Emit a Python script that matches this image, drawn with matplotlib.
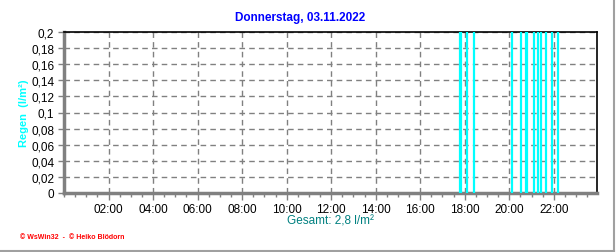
import matplotlib
matplotlib.use("Agg")
import matplotlib.pyplot as plt
from matplotlib.ticker import FixedLocator, MultipleLocator, FuncFormatter
from matplotlib.lines import Line2D

# Rain events (hours of day) and amounts (l/m²)
event_hours = [17.79, 17.83, 18.10, 18.41, 20.13, 20.52, 20.74, 20.80,
               21.10, 21.28, 21.42, 21.67, 21.90, 22.18]
event_values = [0.2] * len(event_hours)
x_tick_hours = [2, 4, 6, 8, 10, 12, 14, 16, 18, 20, 22]
x_tick_labels = ["02:00", "04:00", "06:00", "08:00", "10:00", "12:00",
                 "14:00", "16:00", "18:00", "20:00", "22:00"]
y_ticks = [0, 0.02, 0.04, 0.06, 0.08, 0.1, 0.12, 0.14, 0.16, 0.18, 0.2]
title = "Donnerstag, 03.11.2022"
total_label = "Gesamt: 2,8 l/m²"
y_label = "Regen  (l/m²)"
footer = "© WsWin32  -  © Heiko Blödorn"

plt.rcParams['font.family'] = ['Liberation Sans', 'DejaVu Sans']

W, H = 616, 253
fig = plt.figure(figsize=(W / 100, H / 100), dpi=100)
fig.patch.set_facecolor("white")
ax = fig.add_axes([64 / W, 1 - 194 / H, (597 - 64) / W, (194 - 33) / H])

ax.vlines(event_hours, 0, event_values, colors="#00FFFF", linewidth=1.6, zorder=3)

ax.set_xlim(0, 23.94)
ax.set_ylim(0, 0.2)

ax.xaxis.set_major_locator(FixedLocator(x_tick_hours))
ax.set_xticklabels(x_tick_labels)
ax.xaxis.set_minor_locator(MultipleLocator(0.5))
ax.set_yticks(y_ticks)
ax.yaxis.set_major_formatter(FuncFormatter(
    lambda v, p: ("%g" % round(v, 2)).replace(".", ",")))

ax.grid(True, which="major", color="#808080", linestyle=(0, (4, 3)), linewidth=1.0, zorder=1)
ax.tick_params(axis="x", which="major", length=5, width=1, color="#808080",
               labelsize=8.5, pad=2)
ax.tick_params(axis="x", which="minor", length=3, width=1, color="#808080")
ax.tick_params(axis="y", which="major", length=4, width=1, color="#808080",
               labelsize=8.5, pad=3)

for s in ["top", "right"]:
    ax.spines[s].set_color("black")
    ax.spines[s].set_linewidth(1.2)
for s in ["left", "bottom"]:
    ax.spines[s].set_color("#808080")
    ax.spines[s].set_linewidth(2.5)

fig.text(300 / W, 1 - 18 / H, title, color="#0000FF", fontsize=8.5,
         fontweight="bold", ha="center", va="center")
fig.text(24 / W, 1 - 113 / H, y_label, color="#00FFFF", fontsize=8,
         fontweight="bold", ha="center", va="center", rotation=90)
fig.text(330 / W, 1 - 222 / H, total_label, color="#008080", fontsize=8.5,
         ha="center", va="center")
fig.text(20 / W, 1 - 238 / H, footer, color="#FF0000", fontsize=5,
         fontweight="bold", ha="left", va="center")

# window frame lines on right and bottom
fig.add_artist(Line2D([613.5 / W, 613.5 / W], [1, 1 - 251.5 / H], color="#A0A0A0", linewidth=1.5))
fig.add_artist(Line2D([0, 613.5 / W], [1 - 251.5 / H, 1 - 251.5 / H], color="#A0A0A0", linewidth=1.5))

fig.savefig("out.png", dpi=100, facecolor="white")
